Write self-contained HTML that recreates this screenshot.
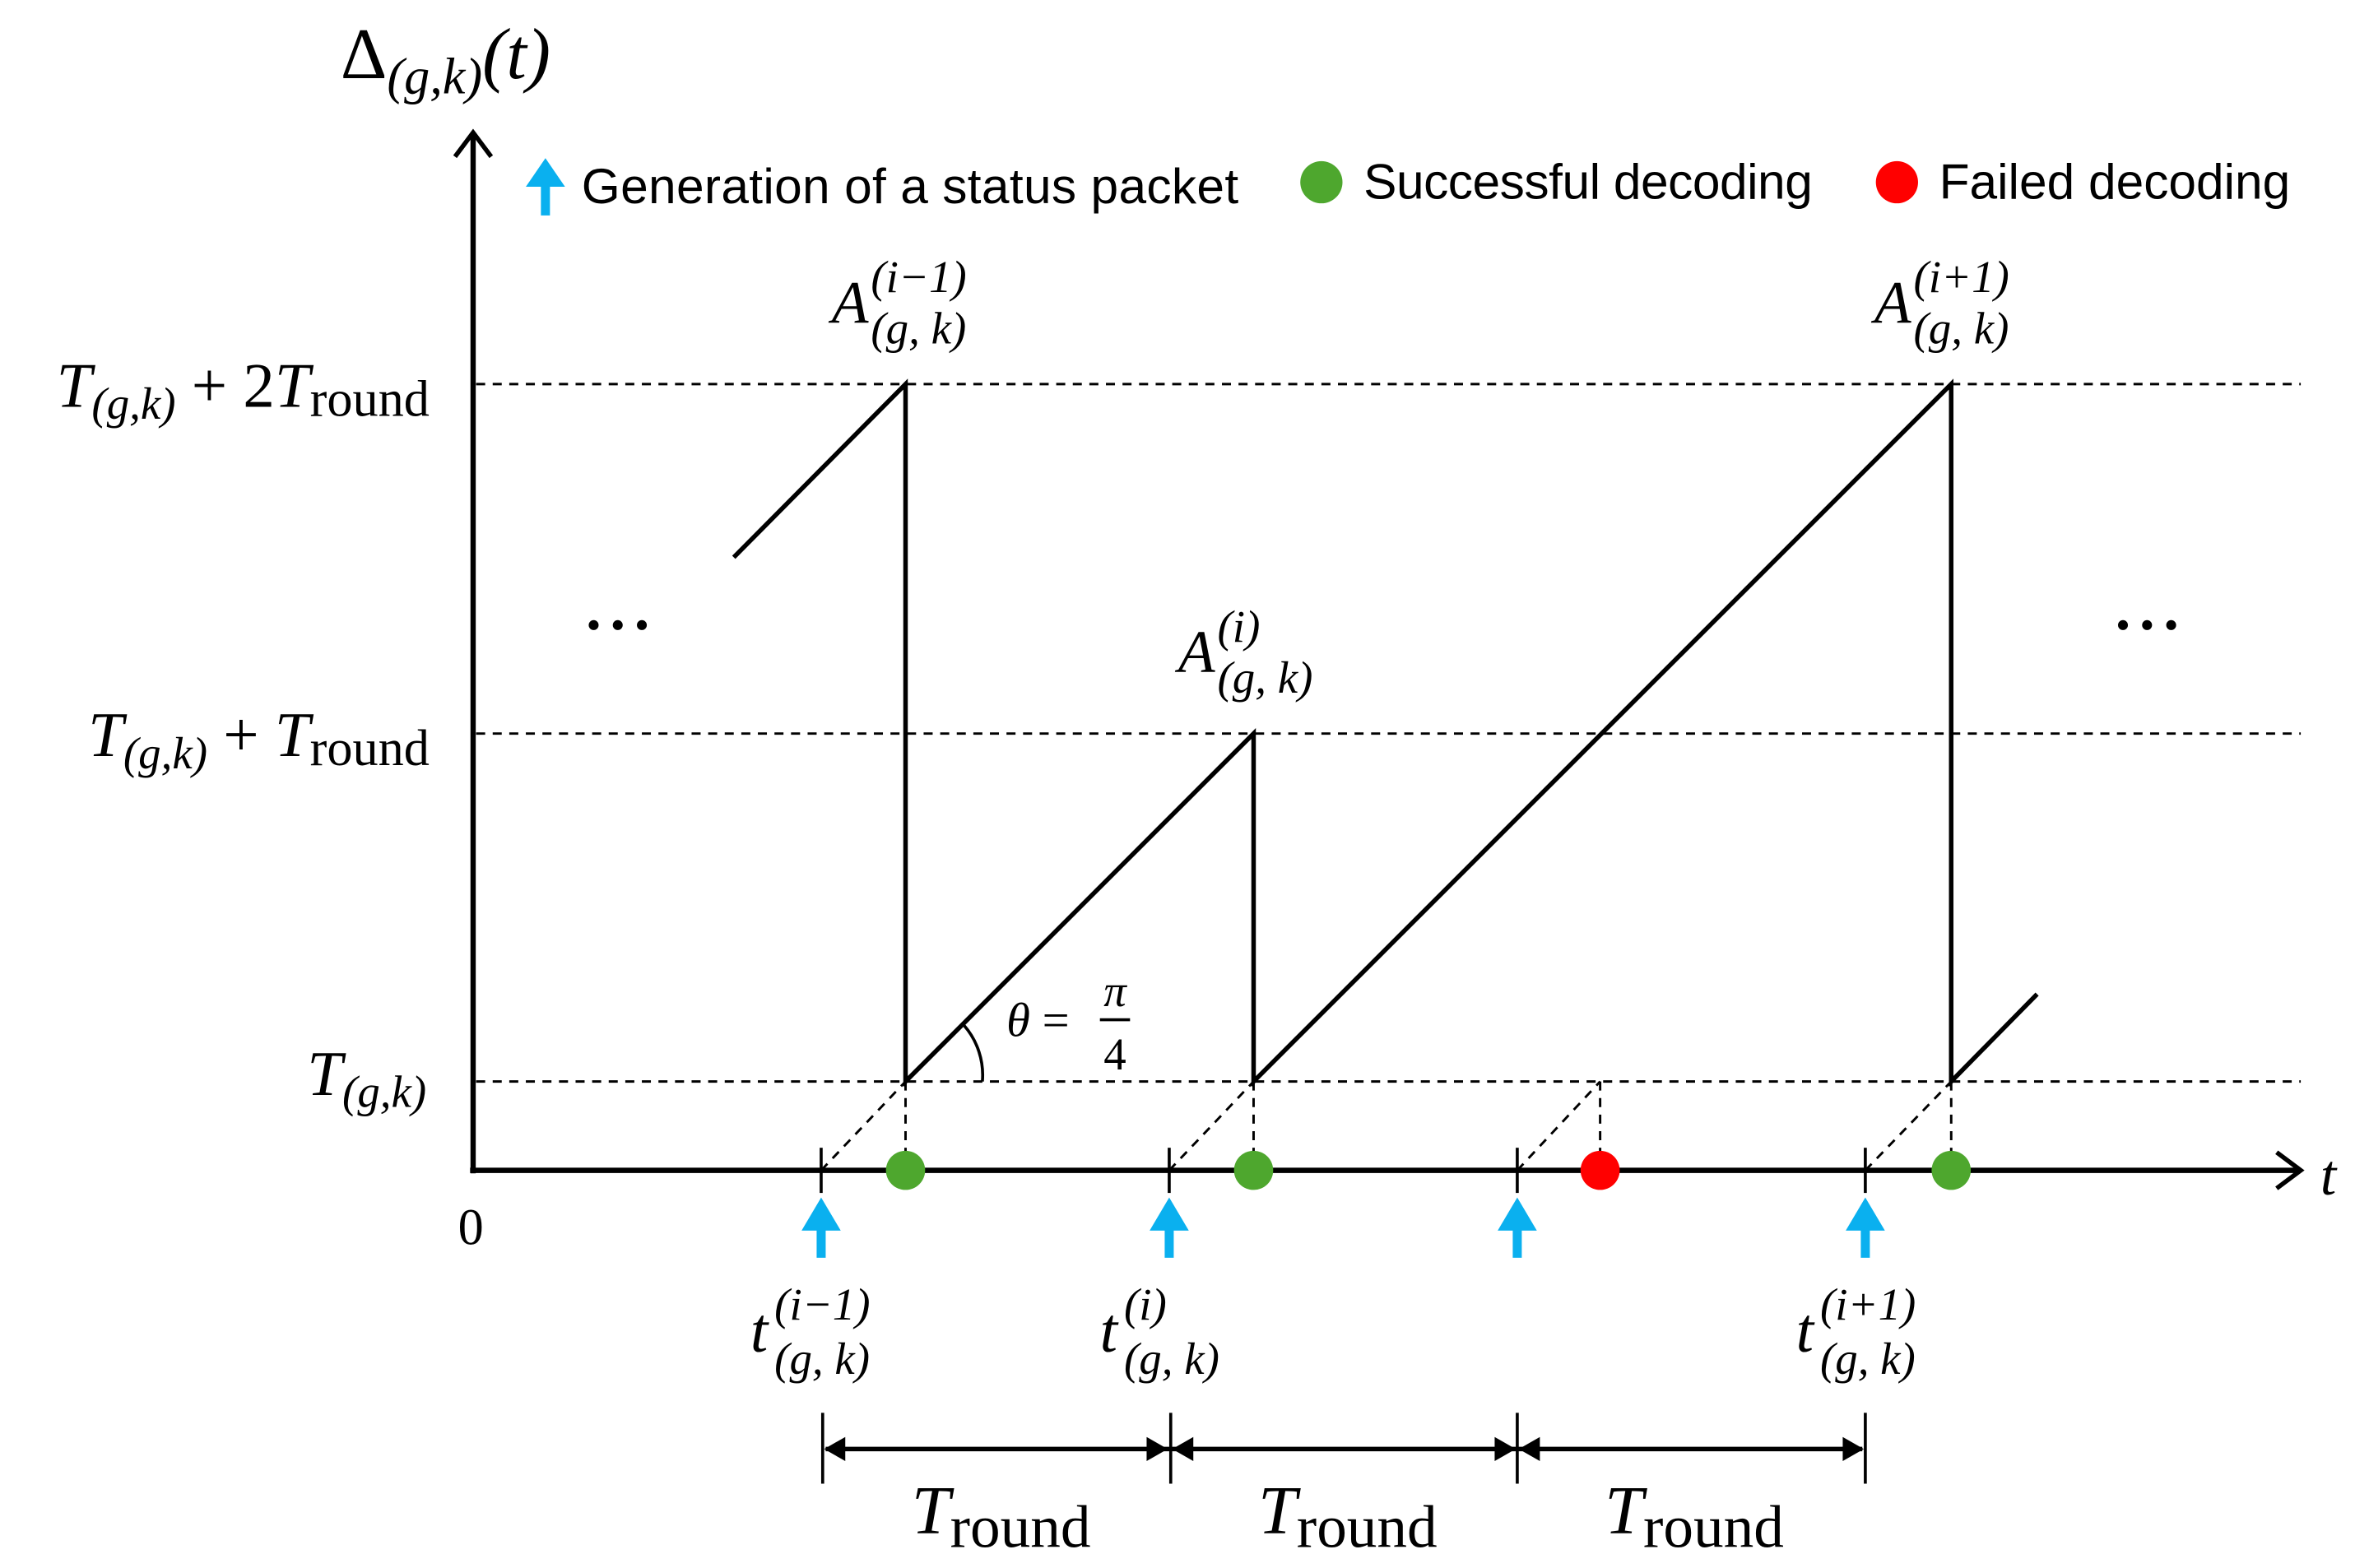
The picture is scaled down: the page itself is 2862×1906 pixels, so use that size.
<!DOCTYPE html>
<html><head><meta charset="utf-8"><style>
html,body{margin:0;padding:0;background:#fff;}
svg{display:block;}
.m{font-family:"Liberation Serif","DejaVu Serif",serif;font-style:italic;fill:#000;}
.s{font-family:"Liberation Sans","DejaVu Sans",sans-serif;font-size:33px;fill:#000;}
</style></head><body>
<svg width="2862" height="1906" viewBox="0 0 1563 1041" preserveAspectRatio="none" xmlns="http://www.w3.org/2000/svg">
<g stroke="#000" stroke-width="1.6" stroke-dasharray="6,5" fill="none">
<line x1="316" y1="255" x2="1527" y2="255"/>
<line x1="316" y1="487" x2="1527" y2="487"/>
<line x1="316" y1="718" x2="1527" y2="718"/>
<line x1="545" y1="777" x2="601" y2="718"/>
<line x1="776" y1="777" x2="832" y2="718"/>
<line x1="1007" y1="777" x2="1062" y2="718"/>
<line x1="1238" y1="777" x2="1295" y2="718"/>
<line x1="601" y1="718" x2="601" y2="777"/>
<line x1="832" y1="718" x2="832" y2="777"/>
<line x1="1062" y1="718" x2="1062" y2="777"/>
<line x1="1295" y1="718" x2="1295" y2="777"/>
</g>
<g stroke="#000" stroke-width="3.5" fill="none">
<line x1="314" y1="779" x2="314" y2="90"/>
<path d="M302,104 L314,88 L326,104" stroke-width="3"/>
<line x1="312" y1="777" x2="1525" y2="777"/>
<path d="M1511,765 L1527,777 L1511,789" stroke-width="3"/>
</g>
<g stroke="#000" stroke-width="3" fill="none">
<path d="M487,370 L601,255 L601,718 L832,487 L832,718 L1295,255 L1295,718 L1352,660"/>
<path d="M640,681 A50,50 0 0 1 652,718" stroke-width="2"/>
</g>
<g stroke="#000" stroke-width="2">
<line x1="545" y1="762" x2="545" y2="792"/>
<line x1="776" y1="762" x2="776" y2="792"/>
<line x1="1007" y1="762" x2="1007" y2="792"/>
<line x1="1238" y1="762" x2="1238" y2="792"/>
<line x1="546" y1="938" x2="546" y2="985"/>
<line x1="777" y1="938" x2="777" y2="985"/>
<line x1="1007" y1="938" x2="1007" y2="985"/>
<line x1="1238" y1="938" x2="1238" y2="985"/>
<line x1="548" y1="962" x2="1236" y2="962" stroke-width="3"/>
</g>
<g fill="#000">
<path d="M547,962 L561,954 L561,970Z"/>
<path d="M775,962 L761,954 L761,970Z"/>
<path d="M778,962 L792,954 L792,970Z"/>
<path d="M1006,962 L992,954 L992,970Z"/>
<path d="M1008,962 L1022,954 L1022,970Z"/>
<path d="M1237,962 L1223,954 L1223,970Z"/>
</g>
<circle cx="601" cy="777" r="13" fill="#4ea72e"/>
<circle cx="832" cy="777" r="13" fill="#4ea72e"/>
<circle cx="1062" cy="777" r="13" fill="#ff0000"/>
<circle cx="1295" cy="777" r="13" fill="#4ea72e"/>
<g fill="#0ab0ef">
<path d="M545,795 L558,817 L548,817 L548,835 L542,835 L542,817 L532,817Z"/>
<path d="M776,795 L789,817 L779,817 L779,835 L773,835 L773,817 L763,817Z"/>
<path d="M1007,795 L1020,817 L1010,817 L1010,835 L1004,835 L1004,817 L994,817Z"/>
<path d="M1238,795 L1251,817 L1241,817 L1241,835 L1235,835 L1235,817 L1225,817Z"/>
<path d="M362,105 L375,124 L365,124 L365,143 L359,143 L359,124 L349,124Z"/>
</g>
<circle cx="877" cy="121" r="14" fill="#4ea72e"/>
<circle cx="1259" cy="121" r="14" fill="#ff0000"/>
<text class="s" x="386" y="135" textLength="436">Generation of a status packet</text>
<text class="s" x="905" y="132" textLength="298">Successful decoding</text>
<text class="s" x="1287" y="132" textLength="233">Failed decoding</text>
<text class="m" x="226" y="52" font-size="48"><tspan style="font-style:normal">Δ</tspan><tspan font-size="34" dy="10">(g,k)</tspan><tspan dy="-10">(t)</tspan></text>
<text class="m" x="1540" y="793" font-size="38">t</text>
<text x="304" y="826" font-size="34" font-family="Liberation Serif, serif">0</text>
<text class="m" x="285" y="270" font-size="42" text-anchor="end">T<tspan font-size="30" dy="8">(g,k)</tspan><tspan dy="-8" style="font-style:normal"> + 2</tspan>T<tspan font-size="34" dy="6" style="font-style:normal">round</tspan></text>
<text class="m" x="285" y="502" font-size="42" text-anchor="end">T<tspan font-size="30" dy="8">(g,k)</tspan><tspan dy="-8" style="font-style:normal"> + </tspan>T<tspan font-size="34" dy="6" style="font-style:normal">round</tspan></text>
<text class="m" x="283" y="727" font-size="42" text-anchor="end">T<tspan font-size="30" dy="8">(g,k)</tspan></text>
<g fill="#000">
<circle cx="394" cy="415" r="3.3"/><circle cx="410" cy="415" r="3.3"/><circle cx="426" cy="415" r="3.3"/>
<circle cx="1409" cy="415" r="3.3"/><circle cx="1425" cy="415" r="3.3"/><circle cx="1441" cy="415" r="3.3"/>
</g>
<text class="m" x="552" y="214" font-size="40">A</text>
<text class="m" x="578" y="194" font-size="30">(i−1)</text>
<text class="m" x="578" y="228" font-size="30">(g, k)</text>
<text class="m" x="782" y="446" font-size="40">A</text>
<text class="m" x="808" y="426" font-size="30">(i)</text>
<text class="m" x="808" y="460" font-size="30">(g, k)</text>
<text class="m" x="1244" y="214" font-size="40">A</text>
<text class="m" x="1270" y="194" font-size="30">(i+1)</text>
<text class="m" x="1270" y="228" font-size="30">(g, k)</text>
<text class="m" x="668" y="688" font-size="32">θ <tspan style="font-style:normal">=</tspan></text>
<text class="m" x="740" y="668" font-size="30" text-anchor="middle">π</text>
<line x1="730" y1="677" x2="750" y2="677" stroke="#000" stroke-width="2"/>
<text class="m" x="740" y="710" font-size="30" text-anchor="middle" style="font-style:normal">4</text>
<text class="m" x="498" y="897" font-size="42">t</text>
<text class="m" x="514" y="876" font-size="30">(i−1)</text>
<text class="m" x="514" y="912" font-size="30">(g, k)</text>
<text class="m" x="730" y="897" font-size="42">t</text>
<text class="m" x="746" y="876" font-size="30">(i)</text>
<text class="m" x="746" y="912" font-size="30">(g, k)</text>
<text class="m" x="1192" y="897" font-size="42">t</text>
<text class="m" x="1208" y="876" font-size="30">(i+1)</text>
<text class="m" x="1208" y="912" font-size="30">(g, k)</text>
<text class="m" x="605" y="1018" font-size="46">T<tspan font-size="40" dy="9" style="font-style:normal">round</tspan></text>
<text class="m" x="835" y="1018" font-size="46">T<tspan font-size="40" dy="9" style="font-style:normal">round</tspan></text>
<text class="m" x="1065" y="1018" font-size="46">T<tspan font-size="40" dy="9" style="font-style:normal">round</tspan></text>
</svg>
</body></html>
